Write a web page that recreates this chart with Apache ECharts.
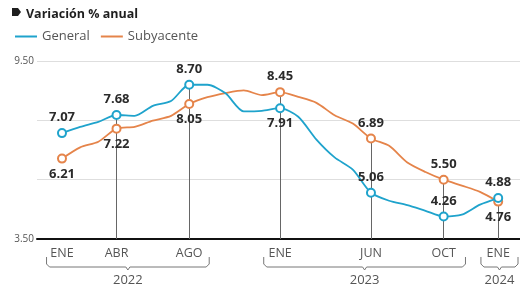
<html>
<head>
<meta charset="utf-8">
<title>Variación % anual</title>
<script src="https://cdn.jsdelivr.net/npm/echarts@6/dist/echarts.min.js"></script>
</head>
<body style="margin:0;background:#fff">
<div id="main" style="width:520px;height:289px;"></div>
<script type="text/javascript">
// monthly values, ENE 2022 .. ENE 2024
var months = ['ENE','FEB','MAR','ABR','MAY','JUN','JUL','AGO','SEP','OCT','NOV','DIC',
              'ENE','FEB','MAR','ABR','MAY','JUN','JUL','AGO','SEP','OCT','NOV','DIC','ENE'];
var general = [7.07, 7.28, 7.45, 7.68, 7.65, 7.99, 8.15, 8.70, 8.70, 8.41, 7.80, 7.82,
               7.91, 7.62, 6.85, 6.25, 5.84, 5.06, 4.79, 4.64, 4.45, 4.26, 4.32, 4.66, 4.88];
var subyacente = [6.21, 6.59, 6.78, 7.22, 7.28, 7.49, 7.65, 8.05, 8.28, 8.42, 8.51, 8.35,
                  8.45, 8.29, 8.09, 7.67, 7.39, 6.89, 6.64, 6.08, 5.76, 5.50, 5.30, 5.09, 4.76];
// months that get a marker, a label and a tick label
var marked = [0, 3, 7, 12, 17, 21, 24];
var generalLabelPos = ['top', 'top', 'top', 'bottom', 'top', 'top', 'top'];
var subLabelPos = ['bottom', 'bottom', 'bottom', 'top', 'top', 'top', 'bottom'];
var years = ['2022', '2023', '2024'];
var yearSpans = [[-0.85, 8.1], [11.1, 22.2], [23.05, 25.1]];

var BLUE = '#1fa3cc';
var ORANGE = '#e5844a';
var FONT = 'Open Sans';

function buildData(values, posList) {
    return values.map(function (v, i) {
        var k = marked.indexOf(i);
        if (k < 0) return { value: [i, v], symbol: 'none' };
        return {
            value: [i, v],
            symbol: 'emptyCircle',
            symbolSize: 8,
            label: { show: true, position: posList[k] }
        };
    });
}

var chart = echarts.init(document.getElementById('main'));

var labelStyle = {
    fontFamily: FONT, fontSize: 13, fontWeight: 'bold', color: '#2b2b2b', distance: 4,
    formatter: function (p) { return p.value[1].toFixed(2); }
};

var option = {
    animation: false,
    title: {
        text: 'Variación % anual', left: 21, top: 3,
        textStyle: { fontFamily: FONT, fontSize: 12.5, fontWeight: 'bold', color: '#1e1e1e' }
    },
    legend: {
        left: 10, top: 25, icon: 'rect', itemWidth: 22, itemHeight: 2, itemGap: 11,
        textStyle: { fontFamily: FONT, fontSize: 13, color: '#555' },
        data: ['General', 'Subyacente']
    },
    grid: { left: 37, right: 0, top: 61, bottom: 50, outerBoundsMode: 'none' },
    xAxis: {
        type: 'value', min: -1.375, max: 25.2,
        splitLine: { show: false },
        axisTick: { show: false },
        axisLine: { lineStyle: { color: '#111', width: 2 } },
        axisLabel: {
            customValues: marked,
            formatter: function (v) { return months[v]; },
            fontFamily: FONT, fontSize: 12.5, color: '#555', margin: 8
        }
    },
    yAxis: {
        type: 'value', min: 3.5, max: 9.5, interval: 2,
        axisLine: { show: false },
        axisTick: { show: false },
        splitLine: { lineStyle: { color: '#dedede', width: 1 } },
        axisLabel: {
            formatter: function (v) { return (v === 9.5 || v === 3.5) ? v.toFixed(2) : ''; },
            fontFamily: FONT, fontSize: 10, color: '#555', margin: 3
        }
    },
    series: [
        {
            name: 'General', type: 'line', z: 4, smooth: 0.25,
            data: buildData(general, generalLabelPos),
            lineStyle: { color: BLUE, width: 1.8 },
            itemStyle: { color: BLUE, borderWidth: 1.6 },
            label: labelStyle,
            markLine: {
                silent: true, symbol: ['none', 'none'], z: 1,
                label: { show: false },
                lineStyle: { color: '#666', width: 1, type: 'solid' },
                data: marked.slice(1).map(function (i) {
                    return [{ coord: [i, Math.max(general[i], subyacente[i])] }, { coord: [i, 3.5] }];
                })
            }
        },
        {
            name: 'Subyacente', type: 'line', z: 3, smooth: 0.25,
            data: buildData(subyacente, subLabelPos),
            lineStyle: { color: ORANGE, width: 1.8 },
            itemStyle: { color: ORANGE, borderWidth: 1.6 },
            label: labelStyle
        }
    ]
};

chart.setOption(option);

// title icon, year braces and year labels placed from the axis scale
var axisY = chart.convertToPixel({ yAxisIndex: 0 }, 3.5);
var elements = [{
    type: 'polygon',
    shape: { points: [[12, 8], [18, 8], [21, 12], [18, 16], [12, 16]] },
    style: { fill: '#1e1e1e' }
}];
yearSpans.forEach(function (span, k) {
    var x1 = chart.convertToPixel({ xAxisIndex: 0 }, span[0]);
    var x2 = Math.min(chart.convertToPixel({ xAxisIndex: 0 }, span[1]), 518);
    var xc = (x1 + x2) / 2;
    var top = axisY + 18, mid = axisY + 28;
    elements.push({
        type: 'polyline',
        shape: { points: [[x1, top], [x1, mid - 3], [x1 + 3, mid], [xc - 2, mid], [xc, mid + 3],
                          [xc + 2, mid], [x2 - 3, mid], [x2, mid - 3], [x2, top]] },
        style: { stroke: '#777', lineWidth: 1, fill: null }
    });
    elements.push({
        type: 'text', x: xc, y: axisY + 41,
        style: { text: years[k], align: 'center', verticalAlign: 'middle',
                 font: '13px "' + FONT + '"', fill: '#555' }
    });
});
chart.setOption({ graphic: elements });
</script>
</body>
</html>
